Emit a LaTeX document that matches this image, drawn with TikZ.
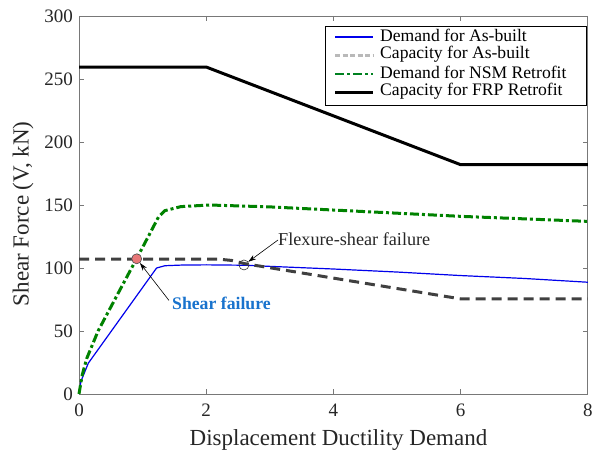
\documentclass[tikz,border=0pt]{standalone}
\usepackage{fontspec}
\setmainfont{Liberation Serif}
\usetikzlibrary{arrows, arrows.meta}
\usetikzlibrary{calc}

\definecolor{axisgray}{RGB}{120,120,120}
\definecolor{ticktext}{RGB}{38,38,38}
\definecolor{demandblue}{RGB}{0,0,235}
\definecolor{capgray}{RGB}{64,64,64}
\definecolor{nsmgreen}{RGB}{0,130,0}
\definecolor{labelblue}{RGB}{25,115,205}
\definecolor{failred}{RGB}{232,120,120}

\tikzset{
  asbuilt/.style={demandblue, line width=1.2pt},
  ascap/.style={capgray, line width=3pt, dash pattern=on 10pt off 6pt},
  ascapkey/.style={gray!55, line width=2.4pt, dash pattern=on 5pt off 2.5pt},
  nsm/.style={nsmgreen, line width=3pt, dash pattern=on 9pt off 3pt on 3pt off 3pt},
  nsmkey/.style={nsmgreen!75!teal, line width=2pt, dash pattern=on 9pt off 3pt on 3pt off 3pt},
  frp/.style={black, line width=3pt},
  ticklab/.style={font=\fontsize{19}{20}\selectfont, text=ticktext, inner sep=1pt},
  axlab/.style={font=\fontsize{23}{25}\selectfont, text=ticktext},
  keylab/.style={font=\fontsize{17.6}{18}\selectfont, anchor=west, inner sep=0pt},
  failpt/.style={circle, draw, inner sep=0pt, minimum size=10pt},
}

\begin{document}
\begin{tikzpicture}[x=63.6pt, y=1.26pt]
  \useasboundingbox (0,0) ++(-79pt,-58pt) rectangle ++(602pt,452pt);

  \draw[axisgray, line width=0.7pt] (0,0) rectangle (8,300);
  \foreach \x in {0,2,...,8} {
    \draw[axisgray, line width=0.7pt] (\x,0) -- ++(0,5pt);
    \draw[axisgray, line width=0.7pt] (\x,300) -- ++(0,-5pt);
    \node[ticklab, anchor=north] (xt\x) at ([yshift=-9pt]\x,0) {\x};
  }
  \foreach \v in {0,50,...,300} {
    \draw[axisgray, line width=0.7pt] (0,\v) -- ++(5pt,0);
    \draw[axisgray, line width=0.7pt] (8,\v) -- ++(-5pt,0);
    \node[ticklab, anchor=east] (yt\v) at ([xshift=-5pt]0,\v) {\v};
  }
  \node[axlab] (xlabel) at ([yshift=-46pt]4.08,0) {Displacement Ductility Demand};
  \node[axlab, rotate=90] (ylabel) at ([xshift=-56pt]0,143) {Shear Force (V, kN)};

  \draw[asbuilt, line join=round] plot coordinates {(0,0) (0.03,10) (0.147,24.5) (1.22,100) (1.35,101.8)
    (1.6,102.3) (2,102.5) (2.6,102.2) (3,101.3) (4,99.2) (5,96.8) (6,94) (7,91.7) (8,88.7)};
  \draw[ascap] plot coordinates {(0,107) (2.2,107) (2.4,106) (2.6,103.5) (6,75.5) (8,75.5)};
  \draw[nsm, line join=round] plot coordinates {(0,0) (0.05,15) (0.12,28) (0.3,50) (0.6,78.5) (0.907,107.5)
    (1.1,126) (1.25,140.5) (1.35,145.5) (1.6,148.7) (2.05,150) (3,148.5) (4,146) (5,143.5) (6,141) (7,139) (8,137)};
  \draw[frp] plot coordinates {(0,259.5) (2,259.5) (6,182) (8,182)};

  \node[failpt, fill=failred, draw=black!70, line width=0.6pt] (shearpt) at (0.907,107.3) {};
  \node[failpt, draw=black!80, line width=0.6pt] (flexpt) at (2.594,102.4) {};

  \begin{scope}[shift={(-79pt,394pt)}, x=1pt, y=-1pt]
    \node[keylab, font=\fontsize{18.2}{19}\selectfont, text=ticktext] (flexlab) at (278,239) {Flexure-shear failure};
    \node[keylab, font=\fontsize{17.7}{18}\selectfont\bfseries, text=labelblue] (shearlab) at (172,303) {Shear failure};

    \draw[fill=white, line width=0.7pt] (325,26) rectangle (586,105);
    \foreach \sty/\txt [count=\i] in {asbuilt/Demand for As-built, ascapkey/Capacity for As-built,
        nsmkey/Demand for NSM Retrofit, frp/Capacity for FRP Retrofit} {
      \draw[\sty] (335,{37+(\i-1)*18.5}) -- (373,{37+(\i-1)*18.5});
      \node[keylab] (key\i) at (380,{35.5+(\i-1)*18.5}) {\txt};
    }
  \end{scope}

  \draw[-{Stealth[length=8pt, width=5pt]}, line width=0.6pt] ([yshift=-1pt]flexlab.west) -- (flexpt);
  \draw[-{Stealth[length=8pt, width=5pt]}, line width=0.6pt] ([xshift=-3pt, yshift=-4pt]shearlab.north west) -- (shearpt);
\end{tikzpicture}
\end{document}
